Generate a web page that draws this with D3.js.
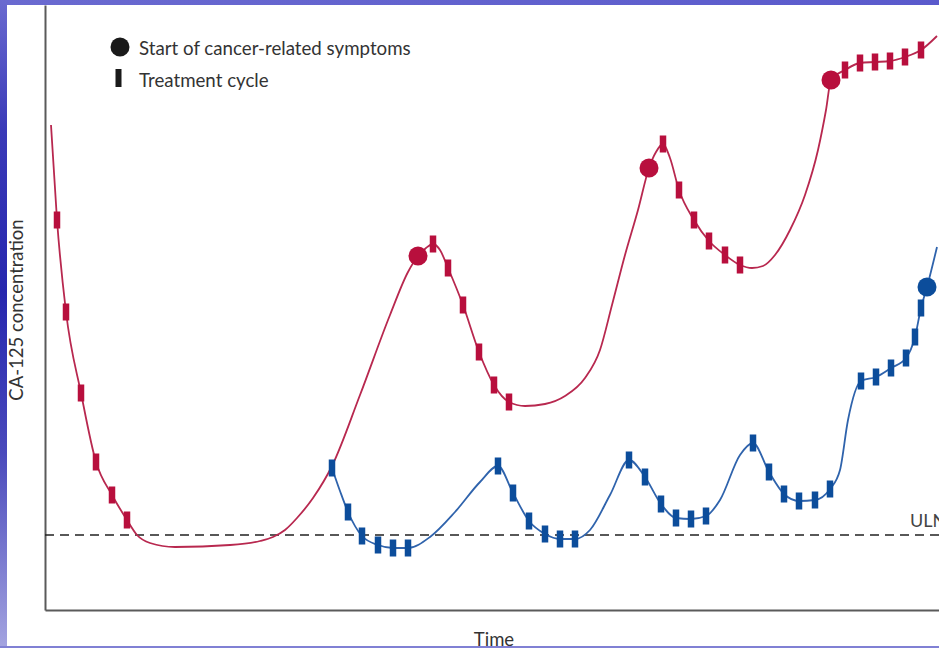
<!DOCTYPE html>
<html><head><meta charset="utf-8">
<script src="https://cdn.jsdelivr.net/npm/d3@7/dist/d3.min.js"></script>
<style>html,body{margin:0;padding:0;background:#fff;overflow:hidden}</style>
</head><body>
<svg id="chart" width="939" height="648"></svg>
<script>
// ---- data (time units, concentration units) ----
const ULN = 75;
const redTime  = [6,12,21,36,51,67,82,92,105,130,185,215,228,240,252,268,287,315,345,363,373,381,388,395,403,418,434,449,464,480,500,520,540,555,567,580,593,604,611,618,625,634,649,664,680,695,707,718,730,745,760,773,781,786,800,815,830,845,860,876,892];
const redConc  = [485,390,298,217,148,115,90,75,67,63,65,69,73,80,92,112,144,215,295,338,354,362,366,360,342,305,258,225,208,204,206,214,232,260,305,355,400,442,458,466,452,420,390,369,355,345,342,344,355,380,415,460,500,530,540,547,548,549,553,560,574];
const redCycleTime = [12,21,36,51,67,82, 388,403,418,434,449,464, 618,634,649,664,680,695, 800,815,830,845,860,876];
const redCycleConc = [390,298,217,148,115,90, 366,342,305,258,225,208, 466,420,390,369,355,345, 540,547,548,549,553,560];
const redOnsetTime = [373,604,786];
const redOnsetConc = [354,442,530];

const blueTime = [287,295,303,317,333,348,363,385,410,435,453,468,484,500,515,530,545,565,584,600,616,631,646,661,675,695,708,724,739,754,770,785,795,803,816,831,846,861,870,876,882,892];
const blueConc = [142,119,98,74,65,62,62,73,98,128,144,117,89,76,71,71,80,115,150,133,106,92,91,94,110,155,167,138,116,109,110,121,140,190,229,233,242,252,273,302,323,363];
const blueCycleTime = [287,303,317,333,348,363, 453,468,484,500,515,530, 584,600,616,631,646,661, 708,724,739,754,770,785, 816,831,846,861,870,876];
const blueCycleConc = [142,98,74,65,62,62, 144,117,89,76,71,71, 150,133,106,92,91,94, 167,138,116,109,110,121, 229,233,242,252,273,302];
const blueOnsetTime = [882];
const blueOnsetConc = [323];

const legendLabels = ["Start of cancer-related symptoms", "Treatment cycle"];
const xLabel = "Time", yLabel = "CA-125 concentration", ulnLabel = "ULN";

// ---- drawing ----
const W = 939, H = 648;
const svg = d3.select("#chart");
const defs = svg.append("defs");
const gl = defs.append("linearGradient").attr("id","leftg").attr("x1",0).attr("y1",0).attr("x2",0).attr("y2",1);
[[0,"#6a6ad0"],[0.2,"#3a3ab8"],[0.45,"#2626ae"],[0.7,"#4a4abc"],[1,"#a4a4e0"]].forEach(s=>gl.append("stop").attr("offset",s[0]).attr("stop-color",s[1]));
const gt = defs.append("linearGradient").attr("id","topg").attr("x1",0).attr("y1",0).attr("x2",1).attr("y2",0);
[[0,"#6a6ad0"],[1,"#5a5acc"]].forEach(s=>gt.append("stop").attr("offset",s[0]).attr("stop-color",s[1]));

svg.append("rect").attr("width",W).attr("height",H).attr("fill","url(#topg)");
svg.append("rect").attr("width",8).attr("height",H).attr("fill","url(#leftg)");
svg.append("rect").attr("x",7).attr("y",5).attr("width",W-7).attr("height",641).attr("fill","#ffffff");

const x = d3.scaleLinear().domain([0, 894]).range([45, 939]);
const y = d3.scaleLinear().domain([0, 605]).range([610, 5]);

const plot = svg.append("g");

// axes
const xAxis = plot.append("g").attr("transform",`translate(0,${y(0)})`).call(d3.axisBottom(x).ticks(0).tickSize(0));
xAxis.select(".domain").attr("stroke","#5a5a5a").attr("stroke-width",2);
const yAxis = plot.append("g").attr("transform",`translate(${x(0)},0)`).call(d3.axisLeft(y).ticks(0).tickSize(0));
yAxis.select(".domain").attr("stroke","#5a5a5a").attr("stroke-width",2);

// ULN
plot.append("line").attr("x1",x(0)).attr("x2",W).attr("y1",y(ULN)).attr("y2",y(ULN))
  .attr("stroke","#222").attr("stroke-width",1.6).attr("stroke-dasharray","9,6");
const font = "Lato, 'Open Sans', sans-serif";
plot.append("text").attr("x",910).attr("y",y(ULN)-8).text(ulnLabel)
  .attr("font-family",font).attr("font-size",18).attr("fill","#444");

const line = d3.line().x(d=>x(d[0])).y(d=>y(d[1])).curve(d3.curveMonotoneX);
const zip = (a,b)=>a.map((v,i)=>[v,b[i]]);

const RED_LINE="#b8284f", RED="#b80f3d", BLUE_LINE="#2f63ac", BLUE="#0c4d9b";

plot.append("path").attr("d",line(zip(redTime,redConc))).attr("fill","none").attr("stroke",RED_LINE).attr("stroke-width",1.8);
plot.append("path").attr("d",line(zip(blueTime,blueConc))).attr("fill","none").attr("stroke",BLUE_LINE).attr("stroke-width",1.8);

function cycles(t,c,col){
  plot.append("g").selectAll("rect").data(zip(t,c)).join("rect")
    .attr("x",d=>x(d[0])-3.25).attr("y",d=>y(d[1])-8.5).attr("width",6.5).attr("height",17).attr("fill",col);
}
function onsets(t,c,col){
  plot.append("g").selectAll("circle").data(zip(t,c)).join("circle")
    .attr("cx",d=>x(d[0])).attr("cy",d=>y(d[1])).attr("r",9.5).attr("fill",col);
}
cycles(redCycleTime,redCycleConc,RED);
cycles(blueCycleTime,blueCycleConc,BLUE);
onsets(redOnsetTime,redOnsetConc,RED);
onsets(blueOnsetTime,blueOnsetConc,BLUE);

// legend
svg.append("circle").attr("cx",120).attr("cy",47).attr("r",9.5).attr("fill","#1a1a1a");
svg.append("rect").attr("x",115.5).attr("y",69).attr("width",6).attr("height",18).attr("fill","#1a1a1a");
svg.append("text").attr("x",139).attr("y",55).text(legendLabels[0]).attr("font-family",font).attr("font-size",18.7).attr("fill","#333");
svg.append("text").attr("x",139).attr("y",87).text(legendLabels[1]).attr("font-family",font).attr("font-size",18.7).attr("fill","#333");

// axis labels
svg.append("text").attr("x",494).attr("y",646).attr("text-anchor","middle").text(xLabel)
  .attr("font-family",font).attr("font-size",18.5).attr("fill","#333");
svg.append("text").attr("transform","translate(23,310) rotate(-90)").attr("text-anchor","middle").text(yLabel)
  .attr("font-family",font).attr("font-size",18.5).attr("fill","#333");

// bottom strip
svg.append("rect").attr("x",0).attr("y",646).attr("width",W).attr("height",2).attr("fill","#8080d4");
</script>
</body></html>
